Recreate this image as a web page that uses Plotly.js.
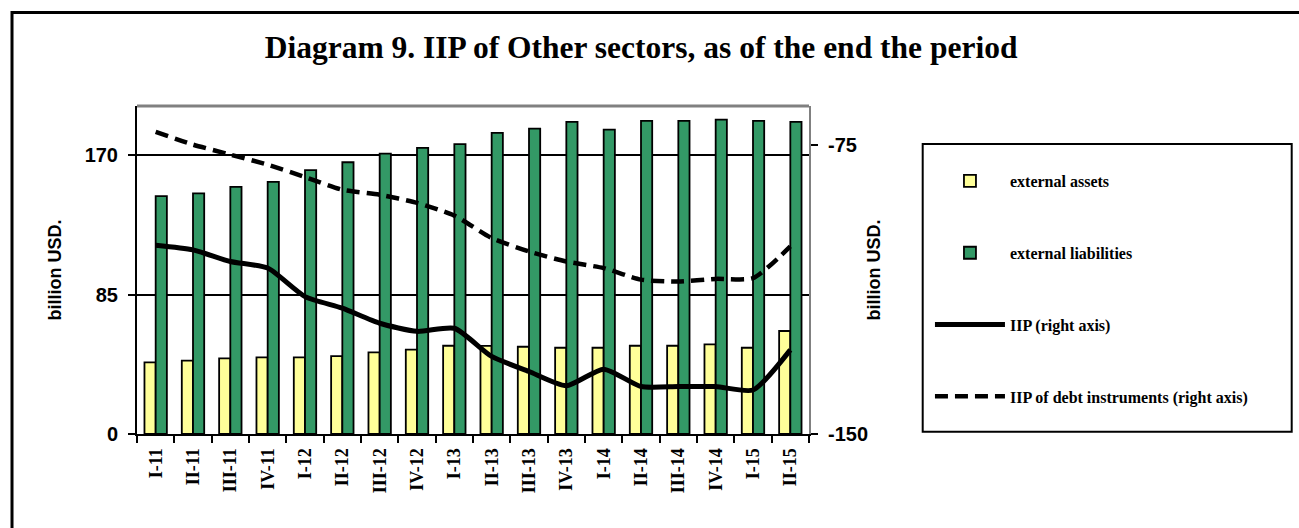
<!DOCTYPE html>
<html>
<head>
<meta charset="utf-8">
<script src="https://cdn.plot.ly/plotly-3.0.1.min.js"></script>
<style>html,body{margin:0;padding:0;background:#fff;}#chart{width:1299px;height:528px;}</style>
</head>
<body>
<div id="chart"></div>
<script>
const categories = ['I-11','II-11','III-11','IV-11','I-12','II-12','III-12','IV-12','I-13','II-13','III-13','IV-13','I-14','II-14','III-14','IV-14','I-15','II-15'];
const externalAssets = [43.7,44.7,46.1,46.7,46.7,47.5,49.8,51.4,53.8,53.7,53.2,52.6,52.6,53.8,53.8,54.6,52.6,62.8];
const externalLiabilities = [145.0,146.7,150.7,153.7,160.9,165.7,171.0,174.5,176.7,183.6,186.2,190.3,185.6,190.9,190.9,191.7,190.9,190.3];
const iip = [-101.1,-102.3,-105.3,-107.0,-114.4,-117.4,-121.3,-123.4,-122.6,-129.9,-133.8,-137.5,-133.2,-137.7,-137.7,-137.7,-138.6,-128.2];
const iipDebt = [-71.7,-75.0,-77.6,-80.2,-83.4,-86.7,-88.0,-90.1,-93.4,-99.2,-102.7,-105.3,-107.0,-110.0,-110.5,-109.8,-109.6,-101.4];
const leftTicks = [0,85,170];
const rightTicks = [-150,-75];

const serif = 'Liberation Serif, Times New Roman, serif';
const sans = 'Liberation Sans, Arial, sans-serif';

const traces = [
  {type:'bar', name:'external assets', x:categories, y:externalAssets, legendgroup:'a',
   marker:{color:'#FFFF99', line:{color:'#000', width:1.8}}},
  {type:'bar', name:'external liabilities', x:categories, y:externalLiabilities, legendgroup:'b',
   marker:{color:'#339966', line:{color:'#000', width:1.8}}},
  {type:'scatter', mode:'lines', name:'IIP (right axis)', x:categories, y:iip, yaxis:'y2', legendgroup:'c',
   line:{color:'#000', width:5, shape:'spline', smoothing:0.6}},
  {type:'scatter', mode:'lines', name:'IIP of debt instruments (right axis)', x:categories, y:iipDebt, yaxis:'y2', legendgroup:'d',
   line:{color:'#000', width:4.5, dash:'13px,7px', shape:'spline', smoothing:0.6}}
];

const layout = {
  width:1299, height:528,
  margin:{l:137, r:490, t:106, b:94},
  paper_bgcolor:'#fff', plot_bgcolor:'#fff',
  barmode:'group', bargap:0.4, bargroupgap:0,
  title:{text:'Diagram 9. IIP of Other sectors, as of the end the period',
    font:{family:serif, size:31.5, weight:'bold', color:'#000'},
    x:0.4935, xanchor:'center', y:0.911, yanchor:'middle'},
  xaxis:{type:'category', tickson:'boundaries', ticks:'outside', ticklen:7, tickwidth:2, tickcolor:'#000',
    showline:true, linecolor:'#000', linewidth:2, tickangle:-90, showgrid:false,
    tickfont:{family:serif, size:18, weight:'bold', color:'#000'}, ticklabelstandoff:5},
  yaxis:{range:[0,200], tickvals:leftTicks, ticktext:leftTicks.map(String), ticks:'outside', ticklen:7, tickwidth:2, tickcolor:'#000',
    showline:true, linecolor:'#000', linewidth:2, showgrid:true, gridcolor:'#000', gridwidth:2, zeroline:false,
    tickfont:{family:sans, size:20, weight:'bold', color:'#000'}, ticklabelstandoff:6,
    title:{text:'billion USD.', font:{family:sans, size:18, weight:'bold', color:'#000'}, standoff:18}},
  yaxis2:{overlaying:'y', side:'right', range:[-150,-65], tickvals:rightTicks, ticktext:rightTicks.map(String),
    ticks:'outside', ticklen:7, tickwidth:2, tickcolor:'#000', showgrid:false, zeroline:false,
    showline:true, linecolor:'#808080', linewidth:2,
    tickfont:{family:sans, size:20, weight:'bold', color:'#000'}, ticklabelstandoff:6,
    title:{text:'billion USD.', font:{family:sans, size:18, weight:'bold', color:'#000'}, standoff:0}},
  showlegend:true,
  legend:{x:1.18, y:0.823, xanchor:'left', yanchor:'top', bgcolor:'rgba(0,0,0,0)', borderwidth:0,
    font:{family:serif, size:16, weight:'bold', color:'#000'}, tracegroupgap:48, itemwidth:70, traceorder:'grouped'},
  shapes:[
    {type:'line', xref:'paper', yref:'paper', x0:0, x1:1, y0:1, y1:1, line:{color:'#808080', width:3}},
    {type:'rect', xref:'paper', yref:'paper', x0:1.1692, x1:1.7183, y0:0.0070, y1:0.8841, line:{color:'#000', width:2}},
    {type:'rect', xref:'paper', yref:'paper', x0:-0.1860, x1:1.74, y0:-0.32, y1:1.285, line:{color:'#000', width:3}}
  ]
};

Plotly.newPlot('chart', traces, layout, {displayModeBar:false, staticPlot:true});
</script>
</body>
</html>
